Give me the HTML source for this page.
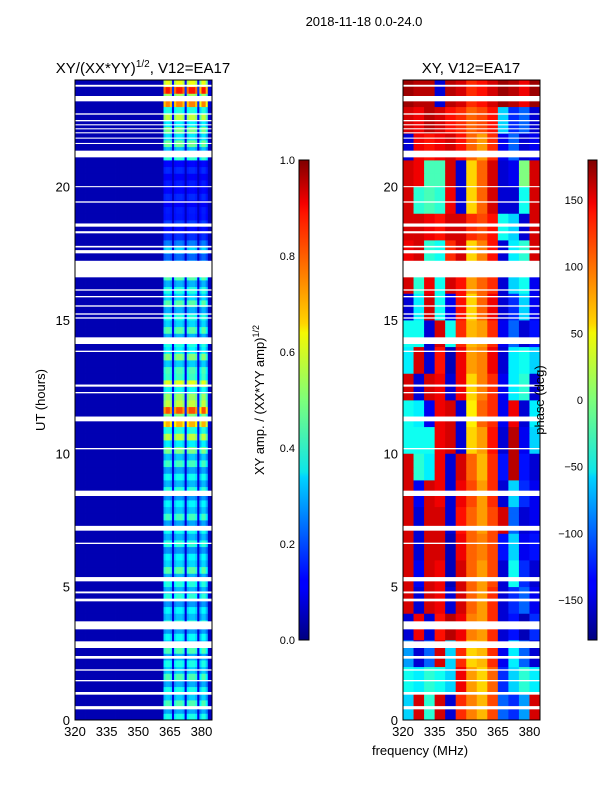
<!DOCTYPE html>
<html><head><meta charset="utf-8">
<style>
body{margin:0;background:#fff;}
svg text{font-family:"Liberation Sans",sans-serif;fill:#000;}
</style></head>
<body>
<svg id="fig" width="600" height="800" xmlns="http://www.w3.org/2000/svg">
<defs>
<linearGradient id="jet" x1="0" y1="1" x2="0" y2="0">
<stop offset="0" stop-color="#00007f"/><stop offset="0.11" stop-color="#0000ff"/><stop offset="0.125" stop-color="#0000ff"/>
<stop offset="0.34" stop-color="#00d4ff"/><stop offset="0.35" stop-color="#0ce5ea"/><stop offset="0.5" stop-color="#7dff7a"/>
<stop offset="0.64" stop-color="#f4f802"/><stop offset="0.66" stop-color="#ffd400"/><stop offset="0.89" stop-color="#ff1300"/>
<stop offset="0.91" stop-color="#f50000"/><stop offset="1" stop-color="#7f0000"/>
</linearGradient>
</defs>
<text x="364" y="26" font-size="13" text-anchor="middle">2018-11-18 0.0-24.0</text>
<text x="143" y="73" font-size="15" text-anchor="middle">XY/(XX*YY)<tspan font-size="10" dy="-6">1/2</tspan><tspan dy="6">, V12=EA17</tspan></text>
<text x="471" y="73" font-size="15" text-anchor="middle">XY, V12=EA17</text>
<g id="left"></g>
<g id="right"></g>
<rect x="75" y="80" width="137" height="640" fill="none" stroke="#000" stroke-width="1"/>
<rect x="403" y="80" width="137" height="640" fill="none" stroke="#000" stroke-width="1"/>
<g id="axes"></g>
<text transform="translate(45,400) rotate(-90)" font-size="13" text-anchor="middle">UT (hours)</text>
<text x="420" y="755" font-size="13" text-anchor="middle">frequency (MHz)</text>
<rect x="299" y="160" width="10" height="480" fill="url(#jet)" stroke="#000"/>
<rect x="588" y="160" width="9" height="480" fill="url(#jet)" stroke="#000"/>
<text transform="translate(264,400) rotate(-90)" font-size="13" text-anchor="middle">XY amp. / (XX*YY amp)<tspan font-size="9" dy="-5">1/2</tspan></text>
<text transform="translate(544,400) rotate(-90)" font-size="13" text-anchor="middle">phase (deg)</text>
</svg>
<script>
const hours=[0,5,10,15,20];
const freqTicks=[320,335,350,365,380];
const ampTicks=[0.0,0.2,0.4,0.6,0.8,1.0];
const phaseTicks=[-150,-100,-50,0,50,100,150];
// channel profile 320..384 MHz (1 = signal band)
const colProfile=[0,0,0,0,0,0,0,0,0,0,0,0,0,0,0,0,0,0,0,0,0,0,0,0,0,0,0,0,0,0,0,0,0,0,0,0,0,0,0,0,0,0,
0.9,1,1,0.9,0.15,0.9,1,1,1,0.9,0.15,0.9,1,1,1,0.9,0.15,0.8,1,1,0.8,0.05,0.05];
// hourly band amplitude 0..23 h
const rowAmp=[0.35,0.35,0.35,0.33,0.32,0.36,0.32,0.34,0.32,0.34,0.45,0.65,0.48,0.4,0.36,0.36,0.36,0.25,0.12,0.1,0.1,0.38,0.45,0.7];
const subMod=[1,0.7,1.15,0.8];
// phase (deg) per hour (rows) and 5-MHz group (320..380)
const phaseRows=[
[-60,150,-30,150,-150,120,90,70,110,-100,-120,-80,150],
[-40,-50,-30,-40,-60,140,80,60,100,-120,-60,-30,-50],
[-80,-150,-100,150,-60,120,60,70,120,-140,-50,-100,-150],
[-150,140,-150,130,160,140,90,80,120,-150,-130,-160,-120],
[150,-150,150,140,-150,150,100,80,120,-150,-120,-100,-140],
[150,-140,150,140,-160,150,100,80,110,-150,-40,-120,-150],
[150,-150,150,150,-160,140,100,90,110,-130,-60,-140,-130],
[150,-150,150,150,-150,130,100,80,110,150,-100,-150,-140],
[150,-140,150,140,-150,140,110,80,120,-150,-60,-120,-140],
[150,-30,-50,140,-150,150,100,70,120,-130,160,-130,-150],
[-40,-40,-40,140,150,-150,60,80,130,-150,160,-140,-60],
[-40,-50,-140,140,150,-150,50,100,120,-140,140,-150,-50],
[150,-150,150,140,-150,140,60,90,120,-140,-50,-30,-150],
[-50,150,-150,130,-160,140,80,90,140,-150,-50,-40,-60],
[-40,-40,-150,150,-40,120,70,80,120,-140,-100,-150,-130],
[-150,-50,150,-40,-140,130,60,100,140,-150,-120,-60,-140],
[150,-30,140,-40,150,130,80,100,120,-150,-60,-40,-140],
[140,150,-30,-40,120,150,60,90,130,-150,-50,-30,150],
[150,150,140,130,150,150,120,110,130,-40,-60,-150,150],
[150,-30,-20,-30,140,-150,60,100,150,-150,-150,-40,150],
[150,140,-20,-20,150,-150,60,100,150,-150,-140,0,150],
[-150,140,130,140,150,130,100,80,120,-140,-100,-150,-140],
[150,140,160,150,130,120,100,110,130,-60,-120,-100,-150],
[170,160,160,-150,160,150,120,130,150,170,160,140,170]];
// flagged (white) time ranges [start, end] hours
const gaps=[[23.75,23.82],[23.2,23.4],[22.7,22.75],[22.45,22.5],[22.3,22.34],[22.15,22.19],[22.0,22.04],[21.8,21.84],[21.6,21.64],[21.1,21.35],[19.98,20.02],[19.4,19.45],[18.5,18.62],[18.25,18.33],[17.5,17.62],[17.72,17.78],[16.6,17.22],[16.1,16.15],[15.85,15.9],[15.5,15.55],[15.2,15.25],[15.05,15.1],[14.1,14.35],[13.8,13.85],[12.5,12.58],[12.25,12.3],[11.2,11.38],[10.15,10.2],[8.4,8.6],[7.1,7.28],[6.6,6.65],[5.2,5.36],[4.75,4.82],[4.45,4.55],[3.4,3.7],[2.7,2.95],[2.3,2.4],[1.85,1.9],[1.45,1.5],[0.95,1.05],[0.4,0.52]];

const NS='http://www.w3.org/2000/svg';
function jet(v){v=Math.max(0,Math.min(1,v));
 function c(x){return Math.max(0,Math.min(1,x));}
 const r=c(1.5-Math.abs(4*v-3)),g=c(1.5-Math.abs(4*v-2)),b=c(1.5-Math.abs(4*v-1));
 return 'rgb('+Math.round(r*255)+','+Math.round(g*255)+','+Math.round(b*255)+')';}
const Y0=720,PH=640/24,CW=137/65;
function yOf(h){return Y0-h*PH;}
function xL(f){return 75+(f-320)*CW;}
function xR(f){return 403+(f-320)*CW;}
function el(tag,attrs,parent){const e=document.createElementNS(NS,tag);for(const k in attrs)e.setAttribute(k,attrs[k]);parent.appendChild(e);return e;}
const L=document.getElementById('left'),R=document.getElementById('right'),A=document.getElementById('axes');
for(let q=0;q<96;q++){
 const h=q/4,hr=Math.floor(h);
 for(let c=0;c<65;c++){
  const v=0.05+colProfile[c]*rowAmp[hr]*subMod[q%4];
  const r=el('rect',{x:xL(320+c).toFixed(2),y:yOf(h+0.25).toFixed(2),width:(CW+0.4).toFixed(2),height:(PH/4+0.4).toFixed(2),fill:jet(v)},L);
  
  
 }
 for(let g=0;g<13;g++){
  const p=phaseRows[hr][g];
  const r=el('rect',{x:xR(320+g*5).toFixed(2),y:yOf(h+0.25).toFixed(2),width:(CW*5+0.4).toFixed(2),height:(PH/4+0.4).toFixed(2),fill:jet((p+180)/360)},R);
  
  
 }
}
gaps.forEach(gp=>{
 [75,403].forEach(x0=>{
  const r=el('rect',{x:x0,y:yOf(gp[1]).toFixed(2),width:137,height:((gp[1]-gp[0])*PH).toFixed(2),fill:'#fff'},x0===75?L:R);
  
  
 });
});
hours.forEach(h=>{
 const t=el('text',{x:70,y:yOf(h)+5,'font-size':13,'text-anchor':'end'},A);t.textContent=h;
 
 
 const t2=el('text',{x:398,y:yOf(h)+5,'font-size':13,'text-anchor':'end'},A);t2.textContent=h;
 
 
});
freqTicks.forEach(f=>{
 [xL,xR].forEach((fx,i)=>{
  const t=el('text',{x:fx(f),y:736,'font-size':13,'text-anchor':'middle'},A);t.textContent=f;
  
  
 });
});
ampTicks.forEach(v=>{
 const y=640-v*480;
 el('line',{x1:299,x2:309,y1:y,y2:y,stroke:'#000'},A);
 const t=el('text',{x:295,y:y+4,'font-size':11,'text-anchor':'end'},A);t.textContent=v.toFixed(1);
 
 
});
phaseTicks.forEach(v=>{
 const y=400-v*480/360;
 el('line',{x1:588,x2:597,y1:y,y2:y,stroke:'#000'},A);
 const t=el('text',{x:583,y:y+4,'font-size':11,'text-anchor':'end'},A);t.textContent=v<0?'\u2212'+(-v):v;
 
 
});
</script>
</body></html>
